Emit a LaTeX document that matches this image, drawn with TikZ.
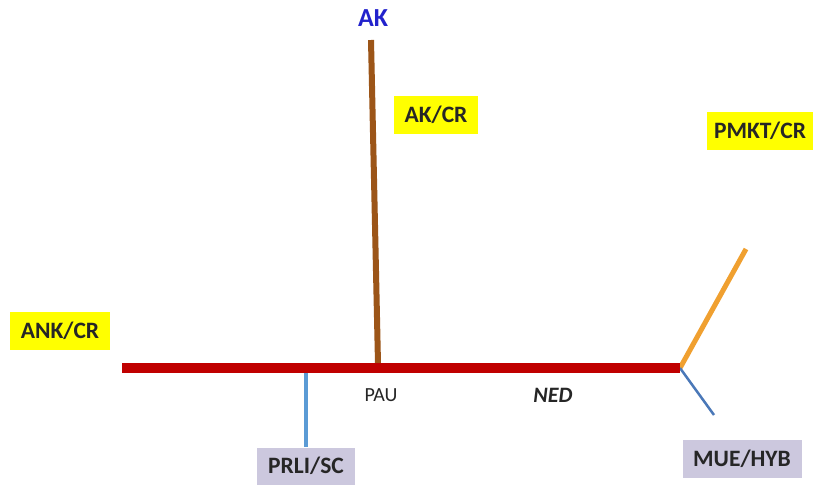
\documentclass[tikz,border=0pt]{standalone}
\usepackage{fontspec}
\setmainfont{Carlito}
\definecolor{tagyellow}{HTML}{FFFF00}
\definecolor{taglav}{HTML}{CCC8DE}
\definecolor{redline}{HTML}{C00000}
\definecolor{brownline}{HTML}{9C5518}
\definecolor{orangeline}{HTML}{F0A030}
\definecolor{blueline}{HTML}{5B9BD5}
\definecolor{blueline2}{HTML}{4A78B8}
\definecolor{aktext}{HTML}{2222CC}
\tikzset{
  tag/.style={font=\fontsize{23.5}{26}\selectfont\bfseries, text=black!85, inner sep=0pt, minimum height=38pt},
  ytag/.style={tag, fill=tagyellow},
  ltag/.style={tag, fill=taglav},
  plain/.style={font=\fontsize{20}{22}\selectfont, text=black!85, inner sep=0pt},
}
\begin{document}
\begin{tikzpicture}[x=1pt,y=-1pt]
\useasboundingbox (0,0) rectangle (821,488);
\fill[white] (0,0) rectangle (821,488);
% coordinates
\coordinate (L) at (122,368);
\coordinate (R) at (680,368);
\coordinate (P) at (378,364);
\coordinate (Q) at (306,368);
\coordinate (Ktop) at (371,40);
\coordinate (Otop) at (746,249);
\coordinate (Bend) at (714,415);
% labels
\node[font=\fontsize{26}{28}\selectfont\bfseries, text=aktext, inner sep=0pt] (ak) at (373,18) {AK};
\node[ytag, minimum width=84pt] (akcr) at (436,115) {AK/CR};
\node[ytag, minimum width=100pt] (ankcr) at (60,331) {ANK/CR};
\node[ytag, minimum width=106pt] (pmkt) at (760,131) {PMKT/CR};
\node[ltag, minimum width=98pt, minimum height=37pt] (prli) at (306,466) {PRLI/SC};
\node[ltag, minimum width=119pt] (mue) at (742,459) {MUE/HYB};
\node[plain] (pau) at (381,395) {PAU};
\node[plain, font=\fontsize{22}{24}\selectfont\bfseries\itshape] (ned) at (553,395) {NED};
% lines
\draw[brownline, line width=6pt] (Ktop) -- (P);
\draw[blueline, line width=3.5pt] (Q) -- (prli.north);
\draw[orangeline, line width=5pt] (R) -- (Otop);
\draw[blueline2, line width=2.5pt] (R) -- (Bend);
\draw[redline, line width=10pt] (L) -- (R);
\end{tikzpicture}
\end{document}
